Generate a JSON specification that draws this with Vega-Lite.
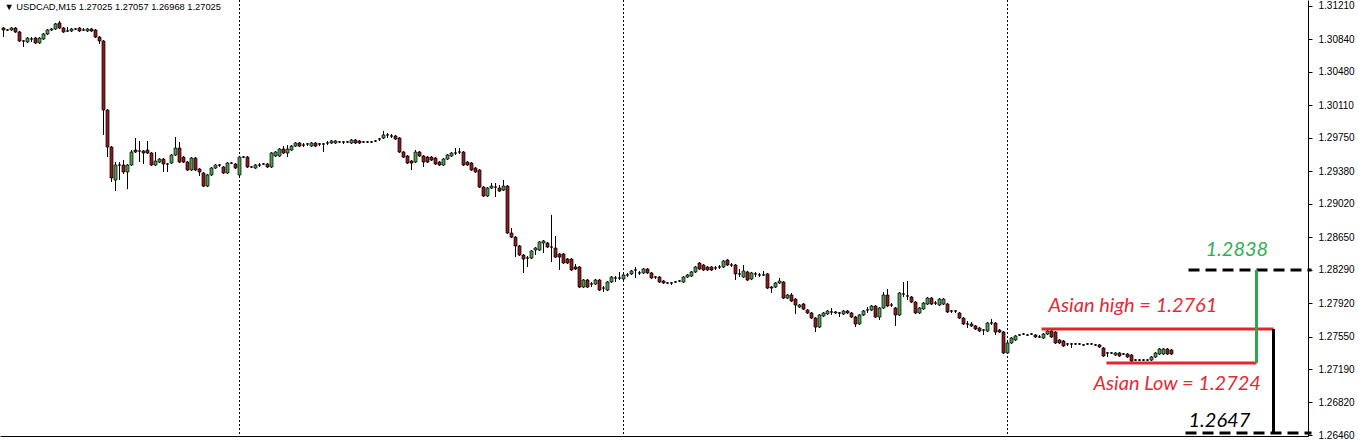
{
"$schema": "https://vega.github.io/schema/vega-lite/v6.json",
"width": 1308,
"height": 436,
"autosize": {"type": "none"},
"padding": {"left": 0, "top": 0, "right": 50, "bottom": 4},
"background": "white",
"view": {"stroke": null},
"config": {"font": "Liberation Sans"},
"datasets": {
"candles": [
{"i":0,"o":1.30966,"h":1.30977,"l":1.30866,"c":1.30944},
{"i":1,"o":1.30944,"h":1.30955,"l":1.30933,"c":1.30944},
{"i":2,"o":1.30944,"h":1.30977,"l":1.30933,"c":1.30966},
{"i":3,"o":1.30966,"h":1.30977,"l":1.30911,"c":1.30922},
{"i":4,"o":1.30922,"h":1.30933,"l":1.30811,"c":1.30822},
{"i":5,"o":1.30822,"h":1.30833,"l":1.30755,"c":1.30822},
{"i":6,"o":1.30811,"h":1.30866,"l":1.30800,"c":1.30855},
{"i":7,"o":1.30844,"h":1.30866,"l":1.30811,"c":1.30844},
{"i":8,"o":1.30855,"h":1.30866,"l":1.30789,"c":1.30800},
{"i":9,"o":1.30800,"h":1.30866,"l":1.30789,"c":1.30855},
{"i":10,"o":1.30844,"h":1.30911,"l":1.30833,"c":1.30900},
{"i":11,"o":1.30900,"h":1.30955,"l":1.30889,"c":1.30944},
{"i":12,"o":1.30944,"h":1.30966,"l":1.30933,"c":1.30955},
{"i":13,"o":1.30955,"h":1.31022,"l":1.30944,"c":1.31011},
{"i":14,"o":1.31022,"h":1.31044,"l":1.30955,"c":1.30966},
{"i":15,"o":1.30966,"h":1.30977,"l":1.30911,"c":1.30922},
{"i":16,"o":1.30933,"h":1.30977,"l":1.30922,"c":1.30933},
{"i":17,"o":1.30933,"h":1.30966,"l":1.30922,"c":1.30955},
{"i":18,"o":1.30955,"h":1.30966,"l":1.30944,"c":1.30955},
{"i":19,"o":1.30966,"h":1.30977,"l":1.30922,"c":1.30933},
{"i":20,"o":1.30944,"h":1.30966,"l":1.30933,"c":1.30944},
{"i":21,"o":1.30933,"h":1.30966,"l":1.30922,"c":1.30955},
{"i":22,"o":1.30955,"h":1.30966,"l":1.30922,"c":1.30933},
{"i":23,"o":1.30944,"h":1.30955,"l":1.30855,"c":1.30866},
{"i":24,"o":1.30866,"h":1.30877,"l":1.30789,"c":1.30822},
{"i":25,"o":1.30822,"h":1.30833,"l":1.29782,"c":1.30058},
{"i":26,"o":1.30058,"h":1.30069,"l":1.29537,"c":1.29648},
{"i":27,"o":1.29648,"h":1.29659,"l":1.29261,"c":1.29305},
{"i":28,"o":1.29283,"h":1.29482,"l":1.29161,"c":1.29449},
{"i":29,"o":1.29449,"h":1.29482,"l":1.29283,"c":1.29449},
{"i":30,"o":1.29449,"h":1.29504,"l":1.29350,"c":1.29372},
{"i":31,"o":1.29372,"h":1.29460,"l":1.29183,"c":1.29449},
{"i":32,"o":1.29449,"h":1.29615,"l":1.29438,"c":1.29593},
{"i":33,"o":1.29615,"h":1.29748,"l":1.29582,"c":1.29593},
{"i":34,"o":1.29604,"h":1.29715,"l":1.29482,"c":1.29604},
{"i":35,"o":1.29604,"h":1.29615,"l":1.29460,"c":1.29582},
{"i":36,"o":1.29615,"h":1.29715,"l":1.29571,"c":1.29582},
{"i":37,"o":1.29582,"h":1.29593,"l":1.29438,"c":1.29449},
{"i":38,"o":1.29449,"h":1.29593,"l":1.29438,"c":1.29493},
{"i":39,"o":1.29482,"h":1.29526,"l":1.29471,"c":1.29515},
{"i":40,"o":1.29515,"h":1.29526,"l":1.29372,"c":1.29460},
{"i":41,"o":1.29460,"h":1.29471,"l":1.29372,"c":1.29460},
{"i":42,"o":1.29471,"h":1.29571,"l":1.29460,"c":1.29560},
{"i":43,"o":1.29560,"h":1.29759,"l":1.29549,"c":1.29637},
{"i":44,"o":1.29637,"h":1.29704,"l":1.29471,"c":1.29482},
{"i":45,"o":1.29537,"h":1.29549,"l":1.29471,"c":1.29482},
{"i":46,"o":1.29482,"h":1.29493,"l":1.29383,"c":1.29394},
{"i":47,"o":1.29394,"h":1.29537,"l":1.29383,"c":1.29526},
{"i":48,"o":1.29526,"h":1.29537,"l":1.29383,"c":1.29394},
{"i":49,"o":1.29405,"h":1.29416,"l":1.29328,"c":1.29372},
{"i":50,"o":1.29361,"h":1.29372,"l":1.29205,"c":1.29216},
{"i":51,"o":1.29216,"h":1.29350,"l":1.29205,"c":1.29339},
{"i":52,"o":1.29339,"h":1.29427,"l":1.29328,"c":1.29416},
{"i":53,"o":1.29416,"h":1.29460,"l":1.29405,"c":1.29449},
{"i":54,"o":1.29449,"h":1.29460,"l":1.29427,"c":1.29449},
{"i":55,"o":1.29427,"h":1.29438,"l":1.29350,"c":1.29361},
{"i":56,"o":1.29361,"h":1.29482,"l":1.29350,"c":1.29471},
{"i":57,"o":1.29471,"h":1.29482,"l":1.29460,"c":1.29471},
{"i":58,"o":1.29460,"h":1.29471,"l":1.29405,"c":1.29416},
{"i":59,"o":1.29339,"h":1.29549,"l":1.29328,"c":1.29537},
{"i":60,"o":1.29537,"h":1.29549,"l":1.29526,"c":1.29537},
{"i":61,"o":1.29537,"h":1.29549,"l":1.29416,"c":1.29427},
{"i":62,"o":1.29427,"h":1.29438,"l":1.29416,"c":1.29427},
{"i":63,"o":1.29416,"h":1.29460,"l":1.29405,"c":1.29449},
{"i":64,"o":1.29449,"h":1.29471,"l":1.29427,"c":1.29449},
{"i":65,"o":1.29460,"h":1.29471,"l":1.29449,"c":1.29460},
{"i":66,"o":1.29460,"h":1.29471,"l":1.29416,"c":1.29427},
{"i":67,"o":1.29427,"h":1.29593,"l":1.29416,"c":1.29582},
{"i":68,"o":1.29549,"h":1.29604,"l":1.29537,"c":1.29593},
{"i":69,"o":1.29549,"h":1.29637,"l":1.29537,"c":1.29626},
{"i":70,"o":1.29626,"h":1.29659,"l":1.29571,"c":1.29582},
{"i":71,"o":1.29582,"h":1.29670,"l":1.29537,"c":1.29626},
{"i":72,"o":1.29615,"h":1.29670,"l":1.29604,"c":1.29659},
{"i":73,"o":1.29659,"h":1.29704,"l":1.29648,"c":1.29693},
{"i":74,"o":1.29693,"h":1.29704,"l":1.29648,"c":1.29659},
{"i":75,"o":1.29670,"h":1.29693,"l":1.29648,"c":1.29670},
{"i":76,"o":1.29682,"h":1.29693,"l":1.29659,"c":1.29682},
{"i":77,"o":1.29659,"h":1.29704,"l":1.29648,"c":1.29693},
{"i":78,"o":1.29693,"h":1.29704,"l":1.29648,"c":1.29659},
{"i":79,"o":1.29682,"h":1.29693,"l":1.29659,"c":1.29682},
{"i":80,"o":1.29682,"h":1.29693,"l":1.29593,"c":1.29682},
{"i":81,"o":1.29693,"h":1.29715,"l":1.29670,"c":1.29693},
{"i":82,"o":1.29693,"h":1.29726,"l":1.29682,"c":1.29715},
{"i":83,"o":1.29693,"h":1.29726,"l":1.29682,"c":1.29715},
{"i":84,"o":1.29704,"h":1.29715,"l":1.29693,"c":1.29704},
{"i":85,"o":1.29704,"h":1.29715,"l":1.29682,"c":1.29704},
{"i":86,"o":1.29704,"h":1.29715,"l":1.29693,"c":1.29704},
{"i":87,"o":1.29693,"h":1.29737,"l":1.29682,"c":1.29726},
{"i":88,"o":1.29726,"h":1.29737,"l":1.29682,"c":1.29693},
{"i":89,"o":1.29715,"h":1.29726,"l":1.29682,"c":1.29693},
{"i":90,"o":1.29704,"h":1.29715,"l":1.29693,"c":1.29704},
{"i":91,"o":1.29704,"h":1.29715,"l":1.29693,"c":1.29704},
{"i":92,"o":1.29704,"h":1.29715,"l":1.29693,"c":1.29704},
{"i":93,"o":1.29715,"h":1.29726,"l":1.29704,"c":1.29715},
{"i":94,"o":1.29737,"h":1.29748,"l":1.29715,"c":1.29737},
{"i":95,"o":1.29748,"h":1.29826,"l":1.29737,"c":1.29782},
{"i":96,"o":1.29782,"h":1.29804,"l":1.29748,"c":1.29782},
{"i":97,"o":1.29770,"h":1.29793,"l":1.29748,"c":1.29770},
{"i":98,"o":1.29770,"h":1.29782,"l":1.29726,"c":1.29737},
{"i":99,"o":1.29748,"h":1.29759,"l":1.29582,"c":1.29593},
{"i":100,"o":1.29593,"h":1.29604,"l":1.29526,"c":1.29537},
{"i":101,"o":1.29549,"h":1.29560,"l":1.29460,"c":1.29471},
{"i":102,"o":1.29493,"h":1.29504,"l":1.29394,"c":1.29471},
{"i":103,"o":1.29482,"h":1.29615,"l":1.29471,"c":1.29593},
{"i":104,"o":1.29593,"h":1.29604,"l":1.29537,"c":1.29549},
{"i":105,"o":1.29549,"h":1.29560,"l":1.29427,"c":1.29482},
{"i":106,"o":1.29537,"h":1.29549,"l":1.29471,"c":1.29482},
{"i":107,"o":1.29537,"h":1.29549,"l":1.29493,"c":1.29504},
{"i":108,"o":1.29526,"h":1.29537,"l":1.29449,"c":1.29460},
{"i":109,"o":1.29482,"h":1.29493,"l":1.29438,"c":1.29449},
{"i":110,"o":1.29449,"h":1.29526,"l":1.29438,"c":1.29515},
{"i":111,"o":1.29515,"h":1.29571,"l":1.29504,"c":1.29560},
{"i":112,"o":1.29549,"h":1.29593,"l":1.29537,"c":1.29582},
{"i":113,"o":1.29582,"h":1.29637,"l":1.29560,"c":1.29582},
{"i":114,"o":1.29593,"h":1.29637,"l":1.29571,"c":1.29593},
{"i":115,"o":1.29593,"h":1.29604,"l":1.29438,"c":1.29449},
{"i":116,"o":1.29482,"h":1.29493,"l":1.29438,"c":1.29449},
{"i":117,"o":1.29471,"h":1.29482,"l":1.29383,"c":1.29394},
{"i":118,"o":1.29416,"h":1.29427,"l":1.29361,"c":1.29372},
{"i":119,"o":1.29394,"h":1.29405,"l":1.29194,"c":1.29205},
{"i":120,"o":1.29205,"h":1.29216,"l":1.29095,"c":1.29106},
{"i":121,"o":1.29106,"h":1.29205,"l":1.29095,"c":1.29194},
{"i":122,"o":1.29194,"h":1.29250,"l":1.29183,"c":1.29216},
{"i":123,"o":1.29205,"h":1.29250,"l":1.29095,"c":1.29205},
{"i":124,"o":1.29194,"h":1.29228,"l":1.29150,"c":1.29161},
{"i":125,"o":1.29172,"h":1.29283,"l":1.29161,"c":1.29216},
{"i":126,"o":1.29216,"h":1.29228,"l":1.28685,"c":1.28696},
{"i":127,"o":1.28696,"h":1.28751,"l":1.28640,"c":1.28651},
{"i":128,"o":1.28651,"h":1.28663,"l":1.28430,"c":1.28553},
{"i":129,"o":1.28553,"h":1.28564,"l":1.28442,"c":1.28453},
{"i":130,"o":1.28453,"h":1.28464,"l":1.28254,"c":1.28408},
{"i":131,"o":1.28419,"h":1.28442,"l":1.28320,"c":1.28419},
{"i":132,"o":1.28419,"h":1.28508,"l":1.28408,"c":1.28497},
{"i":133,"o":1.28508,"h":1.28541,"l":1.28453,"c":1.28530},
{"i":134,"o":1.28508,"h":1.28608,"l":1.28497,"c":1.28597},
{"i":135,"o":1.28586,"h":1.28619,"l":1.28475,"c":1.28608},
{"i":136,"o":1.28586,"h":1.28597,"l":1.28530,"c":1.28541},
{"i":137,"o":1.28541,"h":1.28896,"l":1.28375,"c":1.28541},
{"i":138,"o":1.28530,"h":1.28663,"l":1.28419,"c":1.28430},
{"i":139,"o":1.28464,"h":1.28475,"l":1.28287,"c":1.28430},
{"i":140,"o":1.28464,"h":1.28475,"l":1.28353,"c":1.28364},
{"i":141,"o":1.28408,"h":1.28419,"l":1.28353,"c":1.28364},
{"i":142,"o":1.28408,"h":1.28419,"l":1.28276,"c":1.28287},
{"i":143,"o":1.28320,"h":1.28353,"l":1.28287,"c":1.28298},
{"i":144,"o":1.28320,"h":1.28331,"l":1.28087,"c":1.28098},
{"i":145,"o":1.28098,"h":1.28187,"l":1.28087,"c":1.28176},
{"i":146,"o":1.28176,"h":1.28187,"l":1.28087,"c":1.28098},
{"i":147,"o":1.28132,"h":1.28154,"l":1.28098,"c":1.28132},
{"i":148,"o":1.28132,"h":1.28187,"l":1.28121,"c":1.28176},
{"i":149,"o":1.28176,"h":1.28187,"l":1.28054,"c":1.28065},
{"i":150,"o":1.28087,"h":1.28109,"l":1.28043,"c":1.28087},
{"i":151,"o":1.28065,"h":1.28165,"l":1.28054,"c":1.28154},
{"i":152,"o":1.28154,"h":1.28220,"l":1.28143,"c":1.28209},
{"i":153,"o":1.28198,"h":1.28220,"l":1.28154,"c":1.28198},
{"i":154,"o":1.28198,"h":1.28265,"l":1.28176,"c":1.28198},
{"i":155,"o":1.28187,"h":1.28243,"l":1.28176,"c":1.28232},
{"i":156,"o":1.28232,"h":1.28254,"l":1.28209,"c":1.28232},
{"i":157,"o":1.28243,"h":1.28287,"l":1.28232,"c":1.28276},
{"i":158,"o":1.28287,"h":1.28320,"l":1.28198,"c":1.28287},
{"i":159,"o":1.28254,"h":1.28276,"l":1.28232,"c":1.28254},
{"i":160,"o":1.28254,"h":1.28309,"l":1.28243,"c":1.28298},
{"i":161,"o":1.28298,"h":1.28309,"l":1.28243,"c":1.28254},
{"i":162,"o":1.28254,"h":1.28265,"l":1.28187,"c":1.28198},
{"i":163,"o":1.28209,"h":1.28220,"l":1.28187,"c":1.28209},
{"i":164,"o":1.28209,"h":1.28220,"l":1.28143,"c":1.28154},
{"i":165,"o":1.28165,"h":1.28176,"l":1.28132,"c":1.28143},
{"i":166,"o":1.28143,"h":1.28154,"l":1.28132,"c":1.28143},
{"i":167,"o":1.28143,"h":1.28154,"l":1.28121,"c":1.28143},
{"i":168,"o":1.28154,"h":1.28165,"l":1.28143,"c":1.28154},
{"i":169,"o":1.28165,"h":1.28176,"l":1.28154,"c":1.28165},
{"i":170,"o":1.28154,"h":1.28220,"l":1.28143,"c":1.28209},
{"i":171,"o":1.28209,"h":1.28243,"l":1.28198,"c":1.28232},
{"i":172,"o":1.28220,"h":1.28276,"l":1.28209,"c":1.28265},
{"i":173,"o":1.28265,"h":1.28331,"l":1.28254,"c":1.28320},
{"i":174,"o":1.28364,"h":1.28375,"l":1.28287,"c":1.28298},
{"i":175,"o":1.28342,"h":1.28353,"l":1.28276,"c":1.28287},
{"i":176,"o":1.28320,"h":1.28331,"l":1.28276,"c":1.28287},
{"i":177,"o":1.28320,"h":1.28331,"l":1.28276,"c":1.28287},
{"i":178,"o":1.28309,"h":1.28331,"l":1.28287,"c":1.28309},
{"i":179,"o":1.28320,"h":1.28342,"l":1.28298,"c":1.28320},
{"i":180,"o":1.28320,"h":1.28397,"l":1.28309,"c":1.28386},
{"i":181,"o":1.28397,"h":1.28408,"l":1.28331,"c":1.28342},
{"i":182,"o":1.28342,"h":1.28364,"l":1.28320,"c":1.28342},
{"i":183,"o":1.28342,"h":1.28353,"l":1.28176,"c":1.28243},
{"i":184,"o":1.28243,"h":1.28298,"l":1.28209,"c":1.28243},
{"i":185,"o":1.28209,"h":1.28342,"l":1.28198,"c":1.28276},
{"i":186,"o":1.28265,"h":1.28276,"l":1.28165,"c":1.28176},
{"i":187,"o":1.28187,"h":1.28265,"l":1.28176,"c":1.28254},
{"i":188,"o":1.28243,"h":1.28265,"l":1.28209,"c":1.28243},
{"i":189,"o":1.28232,"h":1.28254,"l":1.28209,"c":1.28232},
{"i":190,"o":1.28232,"h":1.28276,"l":1.28220,"c":1.28232},
{"i":191,"o":1.28243,"h":1.28254,"l":1.28076,"c":1.28087},
{"i":192,"o":1.28098,"h":1.28109,"l":1.28032,"c":1.28087},
{"i":193,"o":1.28098,"h":1.28154,"l":1.28087,"c":1.28143},
{"i":194,"o":1.28143,"h":1.28198,"l":1.28132,"c":1.28165},
{"i":195,"o":1.28154,"h":1.28165,"l":1.27965,"c":1.27976},
{"i":196,"o":1.27976,"h":1.28021,"l":1.27965,"c":1.28010},
{"i":197,"o":1.28010,"h":1.28032,"l":1.27932,"c":1.27943},
{"i":198,"o":1.27965,"h":1.27976,"l":1.27800,"c":1.27899},
{"i":199,"o":1.27877,"h":1.27910,"l":1.27866,"c":1.27899},
{"i":200,"o":1.27910,"h":1.27921,"l":1.27844,"c":1.27854},
{"i":201,"o":1.27844,"h":1.27854,"l":1.27800,"c":1.27811},
{"i":202,"o":1.27811,"h":1.27822,"l":1.27744,"c":1.27755},
{"i":203,"o":1.27755,"h":1.27766,"l":1.27600,"c":1.27655},
{"i":204,"o":1.27655,"h":1.27800,"l":1.27644,"c":1.27789},
{"i":205,"o":1.27778,"h":1.27822,"l":1.27766,"c":1.27811},
{"i":206,"o":1.27800,"h":1.27844,"l":1.27789,"c":1.27833},
{"i":207,"o":1.27822,"h":1.27866,"l":1.27789,"c":1.27822},
{"i":208,"o":1.27822,"h":1.27833,"l":1.27800,"c":1.27811},
{"i":209,"o":1.27811,"h":1.27822,"l":1.27766,"c":1.27811},
{"i":210,"o":1.27800,"h":1.27844,"l":1.27789,"c":1.27833},
{"i":211,"o":1.27833,"h":1.27844,"l":1.27800,"c":1.27811},
{"i":212,"o":1.27811,"h":1.27822,"l":1.27755,"c":1.27766},
{"i":213,"o":1.27766,"h":1.27778,"l":1.27655,"c":1.27689},
{"i":214,"o":1.27689,"h":1.27800,"l":1.27678,"c":1.27789},
{"i":215,"o":1.27789,"h":1.27844,"l":1.27778,"c":1.27833},
{"i":216,"o":1.27844,"h":1.27877,"l":1.27811,"c":1.27844},
{"i":217,"o":1.27844,"h":1.27899,"l":1.27833,"c":1.27888},
{"i":218,"o":1.27888,"h":1.27899,"l":1.27755,"c":1.27766},
{"i":219,"o":1.27766,"h":1.27877,"l":1.27733,"c":1.27866},
{"i":220,"o":1.27866,"h":1.28043,"l":1.27855,"c":1.28010},
{"i":221,"o":1.28010,"h":1.28076,"l":1.27877,"c":1.27888},
{"i":222,"o":1.27899,"h":1.27921,"l":1.27877,"c":1.27899},
{"i":223,"o":1.27866,"h":1.27877,"l":1.27667,"c":1.27789},
{"i":224,"o":1.27789,"h":1.28043,"l":1.27778,"c":1.28032},
{"i":225,"o":1.28021,"h":1.28154,"l":1.27988,"c":1.28021},
{"i":226,"o":1.27999,"h":1.28165,"l":1.27954,"c":1.27999},
{"i":227,"o":1.27988,"h":1.27999,"l":1.27921,"c":1.27932},
{"i":228,"o":1.27932,"h":1.27943,"l":1.27800,"c":1.27811},
{"i":229,"o":1.27811,"h":1.27877,"l":1.27800,"c":1.27866},
{"i":230,"o":1.27855,"h":1.27932,"l":1.27844,"c":1.27921},
{"i":231,"o":1.27910,"h":1.27988,"l":1.27899,"c":1.27976},
{"i":232,"o":1.27976,"h":1.27988,"l":1.27899,"c":1.27910},
{"i":233,"o":1.27921,"h":1.27943,"l":1.27899,"c":1.27921},
{"i":234,"o":1.27899,"h":1.27976,"l":1.27888,"c":1.27965},
{"i":235,"o":1.27910,"h":1.27976,"l":1.27899,"c":1.27965},
{"i":236,"o":1.27910,"h":1.27921,"l":1.27811,"c":1.27822},
{"i":237,"o":1.27833,"h":1.27844,"l":1.27811,"c":1.27833},
{"i":238,"o":1.27833,"h":1.27844,"l":1.27811,"c":1.27833},
{"i":239,"o":1.27811,"h":1.27822,"l":1.27744,"c":1.27755},
{"i":240,"o":1.27755,"h":1.27766,"l":1.27678,"c":1.27689},
{"i":241,"o":1.27689,"h":1.27722,"l":1.27644,"c":1.27689},
{"i":242,"o":1.27689,"h":1.27711,"l":1.27655,"c":1.27667},
{"i":243,"o":1.27667,"h":1.27678,"l":1.27622,"c":1.27633},
{"i":244,"o":1.27644,"h":1.27655,"l":1.27600,"c":1.27611},
{"i":245,"o":1.27622,"h":1.27633,"l":1.27567,"c":1.27622},
{"i":246,"o":1.27611,"h":1.27711,"l":1.27600,"c":1.27700},
{"i":247,"o":1.27700,"h":1.27744,"l":1.27678,"c":1.27700},
{"i":248,"o":1.27700,"h":1.27711,"l":1.27567,"c":1.27600},
{"i":249,"o":1.27622,"h":1.27633,"l":1.27589,"c":1.27600},
{"i":250,"o":1.27600,"h":1.27611,"l":1.27357,"c":1.27368},
{"i":251,"o":1.27368,"h":1.27490,"l":1.27357,"c":1.27479},
{"i":252,"o":1.27479,"h":1.27545,"l":1.27468,"c":1.27534},
{"i":253,"o":1.27512,"h":1.27567,"l":1.27501,"c":1.27556},
{"i":254,"o":1.27567,"h":1.27578,"l":1.27556,"c":1.27567},
{"i":255,"o":1.27578,"h":1.27589,"l":1.27567,"c":1.27578},
{"i":256,"o":1.27567,"h":1.27578,"l":1.27556,"c":1.27567},
{"i":257,"o":1.27578,"h":1.27589,"l":1.27567,"c":1.27578},
{"i":258,"o":1.27567,"h":1.27578,"l":1.27534,"c":1.27545},
{"i":259,"o":1.27545,"h":1.27567,"l":1.27534,"c":1.27545},
{"i":260,"o":1.27534,"h":1.27589,"l":1.27523,"c":1.27578},
{"i":261,"o":1.27578,"h":1.27622,"l":1.27567,"c":1.27611},
{"i":262,"o":1.27611,"h":1.27622,"l":1.27534,"c":1.27545},
{"i":263,"o":1.27600,"h":1.27611,"l":1.27468,"c":1.27479},
{"i":264,"o":1.27512,"h":1.27523,"l":1.27468,"c":1.27479},
{"i":265,"o":1.27501,"h":1.27512,"l":1.27434,"c":1.27446},
{"i":266,"o":1.27468,"h":1.27479,"l":1.27446,"c":1.27468},
{"i":267,"o":1.27468,"h":1.27479,"l":1.27423,"c":1.27468},
{"i":268,"o":1.27468,"h":1.27479,"l":1.27457,"c":1.27468},
{"i":269,"o":1.27468,"h":1.27479,"l":1.27457,"c":1.27468},
{"i":270,"o":1.27457,"h":1.27468,"l":1.27446,"c":1.27457},
{"i":271,"o":1.27468,"h":1.27479,"l":1.27457,"c":1.27468},
{"i":272,"o":1.27468,"h":1.27479,"l":1.27457,"c":1.27468},
{"i":273,"o":1.27457,"h":1.27468,"l":1.27446,"c":1.27457},
{"i":274,"o":1.27457,"h":1.27468,"l":1.27423,"c":1.27434},
{"i":275,"o":1.27423,"h":1.27434,"l":1.27324,"c":1.27335},
{"i":276,"o":1.27368,"h":1.27379,"l":1.27324,"c":1.27368},
{"i":277,"o":1.27368,"h":1.27379,"l":1.27357,"c":1.27368},
{"i":278,"o":1.27346,"h":1.27379,"l":1.27335,"c":1.27368},
{"i":279,"o":1.27368,"h":1.27379,"l":1.27324,"c":1.27335},
{"i":280,"o":1.27357,"h":1.27368,"l":1.27346,"c":1.27357},
{"i":281,"o":1.27357,"h":1.27368,"l":1.27313,"c":1.27324},
{"i":282,"o":1.27346,"h":1.27357,"l":1.27268,"c":1.27279},
{"i":283,"o":1.27290,"h":1.27301,"l":1.27279,"c":1.27290},
{"i":284,"o":1.27290,"h":1.27301,"l":1.27279,"c":1.27290},
{"i":285,"o":1.27290,"h":1.27301,"l":1.27279,"c":1.27290},
{"i":286,"o":1.27290,"h":1.27301,"l":1.27279,"c":1.27290},
{"i":287,"o":1.27290,"h":1.27335,"l":1.27279,"c":1.27324},
{"i":288,"o":1.27324,"h":1.27379,"l":1.27313,"c":1.27368},
{"i":289,"o":1.27357,"h":1.27423,"l":1.27346,"c":1.27412},
{"i":290,"o":1.27357,"h":1.27423,"l":1.27346,"c":1.27412},
{"i":291,"o":1.27412,"h":1.27423,"l":1.27346,"c":1.27357},
{"i":292,"o":1.27401,"h":1.27412,"l":1.27346,"c":1.27357}
],
"seps": [{"i": 59}, {"i": 155}, {"i": 251}],
"dashed": [
{"x1": 296.25, "x2": 327, "p": 1.28287},
{"x1": 295.5, "x2": 327, "p": 1.26482}
],
"redlines": [
{"x1": 259.5, "x2": 317.5, "p": 1.27633},
{"x1": 275.75, "x2": 313.25, "p": 1.27257}
],
"greenline": [{"x": 313.25, "p1": 1.28287, "p2": 1.27257}],
"blackline": [{"x": 317.5, "p1": 1.27633, "p2": 1.26482}],
"labels": [
{"x": 300.5, "p": 1.28508, "t": "1.2838", "col": "green"},
{"x": 261.25, "p": 1.27888, "t": "Asian high = 1.2761", "col": "red"},
{"x": 272.5, "p": 1.27025, "t": "Asian Low = 1.2724", "col": "red"},
{"x": 296.25, "p": 1.26615, "t": "1.2647", "col": "black"}
],
"header": [{"x": -0.75, "p": 1.31198, "t": "▼  USDCAD,M15  1.27025 1.27057 1.26968 1.27025"}]
},
"encoding": {
"x": {"type": "quantitative", "scale": {"domain": [-0.875, 326.125], "nice": false, "zero": false, "padding": 0}, "axis": {"labels": false, "ticks": false, "grid": false, "title": null, "domainColor": "#000000", "domainWidth": 1}},
"y": {"type": "quantitative", "scale": {"domain": [1.26449, 1.31276], "nice": false, "zero": false}, "axis": {"orient": "right", "values": [1.3121, 1.3084, 1.3048, 1.3011, 1.2975, 1.2938, 1.2902, 1.2865, 1.2829, 1.2792, 1.2755, 1.2719, 1.2682, 1.2646], "format": ".5f", "grid": false, "title": null, "labelFont": "Liberation Sans", "labelFontSize": 10, "labelColor": "#000000", "tickColor": "#000000", "tickSize": 4, "labelPadding": 6, "domainColor": "#000000", "domainWidth": 1, "labelBound": false, "labelFlush": false, "labelOverlap": false}}
},
"layer": [
{"data": {"name": "seps"}, "mark": {"type": "rule", "color": "#000000", "strokeWidth": 1, "strokeDash": [2, 2]}, "encoding": {"x": {"field": "i"}}},
{"data": {"name": "candles"}, "mark": {"type": "rule", "color": "#000000", "strokeWidth": 1}, "encoding": {"x": {"field": "i"}, "y": {"field": "l"}, "y2": {"field": "h"}}},
{"data": {"name": "candles"}, "mark": {"type": "bar", "width": 3, "stroke": "#000000", "strokeWidth": 0.7}, "encoding": {"x": {"field": "i"}, "y": {"field": "o"}, "y2": {"field": "c"}, "fill": {"condition": {"test": "datum.c > datum.o", "value": "#4f9d52"}, "value": "#8a1c1c"}}},
{"data": {"name": "dashed"}, "mark": {"type": "rule", "color": "#000000", "strokeWidth": 3, "strokeDash": [11, 6]}, "encoding": {"x": {"field": "x1"}, "x2": {"field": "x2"}, "y": {"field": "p"}}},
{"data": {"name": "redlines"}, "mark": {"type": "rule", "color": "#e2262f", "strokeWidth": 3}, "encoding": {"x": {"field": "x1"}, "x2": {"field": "x2"}, "y": {"field": "p"}}},
{"data": {"name": "greenline"}, "mark": {"type": "rule", "color": "#2ea84f", "strokeWidth": 3}, "encoding": {"x": {"field": "x"}, "y": {"field": "p1"}, "y2": {"field": "p2"}}},
{"data": {"name": "blackline"}, "mark": {"type": "rule", "color": "#000000", "strokeWidth": 3}, "encoding": {"x": {"field": "x"}, "y": {"field": "p1"}, "y2": {"field": "p2"}}},
{"data": {"name": "labels"}, "mark": {"type": "text", "font": "Lato", "fontStyle": "italic", "fontSize": 20, "align": "left", "baseline": "middle"}, "encoding": {"x": {"field": "x"}, "y": {"field": "p"}, "text": {"field": "t"}, "color": {"field": "col", "type": "nominal", "scale": {"domain": ["green", "red", "black"], "range": ["#2fb04f", "#e22b37", "#000000"]}, "legend": null}}},
{"data": {"name": "header"}, "mark": {"type": "text", "font": "Liberation Sans", "fontSize": 9.3, "align": "left", "baseline": "middle", "dx": 4, "color": "#000000"}, "encoding": {"x": {"field": "x"}, "y": {"field": "p"}, "text": {"field": "t"}}}
]
}
